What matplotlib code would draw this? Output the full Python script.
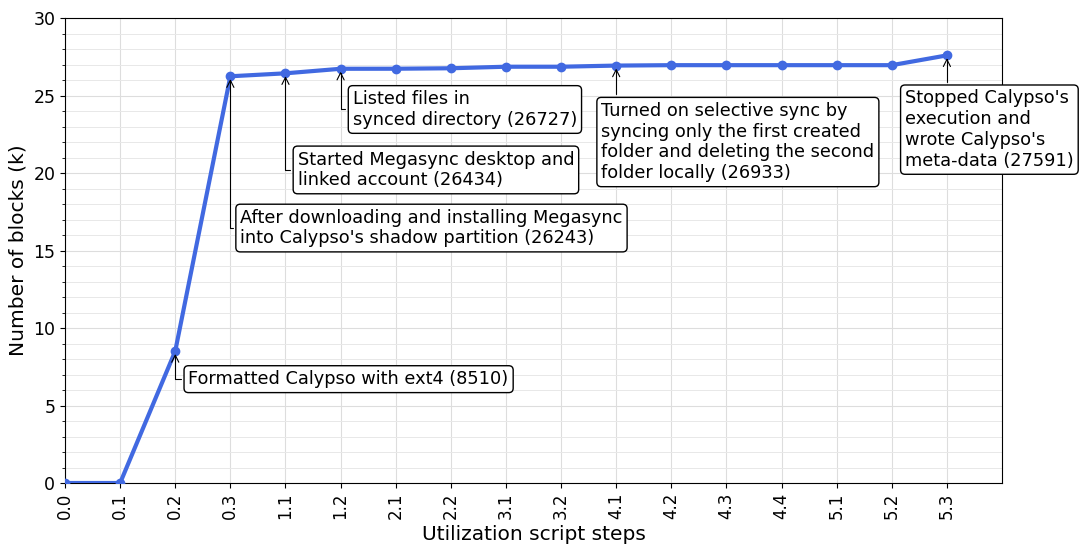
import numpy as np
import matplotlib
matplotlib.use("Agg")
import matplotlib.pyplot as plt
from matplotlib.ticker import MultipleLocator

# utilization script steps and block counts (in thousands)
steps = ["0.0", "0.1", "0.2", "0.3", "1.1", "1.2", "2.1", "2.2", "3.1",
         "3.2", "4.1", "4.2", "4.3", "4.4", "5.1", "5.2", "5.3"]
blocks = [0, 0, 8.510, 26.243, 26.434, 26.727, 26.73, 26.76, 26.86,
          26.86, 26.933, 26.96, 26.96, 26.96, 26.96, 26.96, 27.591]

# annotated steps: (index, text, text x, text y)
notes = [
    (2, "Formatted Calypso with ext4 (8510)", 2.24, 6.7),
    (3, "After downloading and installing Megasync\ninto Calypso's shadow partition (26243)", 3.18, 16.45),
    (4, "Started Megasync desktop and\nlinked account (26434)", 4.22, 20.2),
    (5, "Listed files in\nsynced directory (26727)", 5.22, 24.1),
    (10, "Turned on selective sync by\nsyncing only the first created\nfolder and deleting the second\nfolder locally (26933)", 9.73, 22.0),
    (16, "Stopped Calypso's\nexecution and\nwrote Calypso's\nmeta-data (27591)", 15.24, 22.8),
]

fig = plt.figure(figsize=(10.8, 5.47), dpi=100)
ax = fig.add_axes([0.0602, 0.117, 0.8676, 0.850])

x = np.arange(len(steps))
ax.plot(x, blocks, color="royalblue", lw=3, marker="o", ms=6, zorder=3)

for i, txt, tx, ty in notes:
    ax.annotate(txt, xy=(x[i], blocks[i]), xytext=(tx, ty),
                fontsize=12.8, ha="left", va="center",
                bbox=dict(boxstyle="round,pad=0.25", fc="white", ec="black", lw=1),
                arrowprops=dict(arrowstyle="->", color="black", lw=0.8,
                                connectionstyle="angle,angleA=0,angleB=90,rad=0"),
                zorder=4)

ax.set_xlim(0, 17)
ax.set_ylim(0, 30)
ax.set_xticks(x)
ax.set_xticklabels(steps, rotation=90, fontsize=12)
ax.yaxis.set_major_locator(MultipleLocator(5))
ax.yaxis.set_minor_locator(MultipleLocator(1))
ax.tick_params(axis="y", labelsize=12.5)
ax.grid(which="major", color="#dddddd", lw=0.8)
ax.grid(which="minor", axis="y", color="#e8e8e8", lw=0.7)
ax.set_axisbelow(True)

ax.set_xlabel("Utilization script steps", fontsize=14.5)
ax.set_ylabel("Number of blocks (k)", fontsize=14.5)

fig.savefig("out.png", dpi=100)
